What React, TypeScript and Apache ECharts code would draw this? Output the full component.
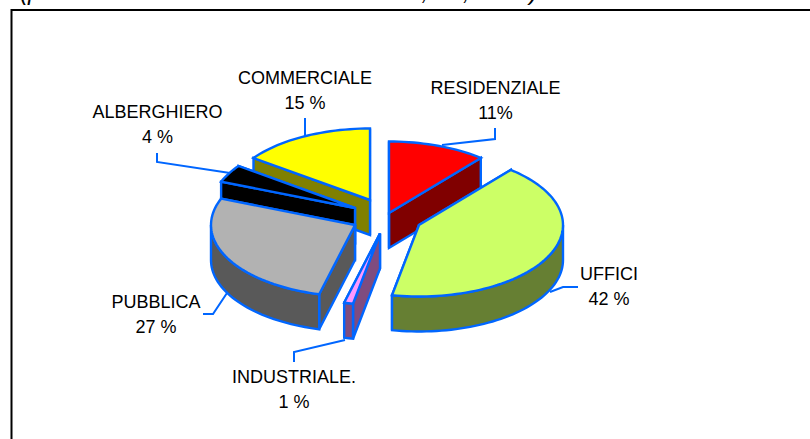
import React, { useEffect, useRef } from "react";
import * as echarts from "echarts";

const sliceNames = ["RESIDENZIALE", "UFFICI", "INDUSTRIALE.", "PUBBLICA", "ALBERGHIERO", "COMMERCIALE"];
const sliceValues = [11, 42, 1, 27, 4, 15];
const percentLabels = ["11%", "42 %", "1 %", "27 %", "4 %", "15 %"];
const topColors = ["#FF0000", "#CCFF66", "#FF99FF", "#B2B2B2", "#000000", "#FFFF00"];
const sideColors = ["#800000", "#667F33", "#7F4C7F", "#595959", "#000000", "#808000"];
const drawOrder = [5, 4, 0, 3, 1, 2];

// layout
const explodedCentres = [[389, 213], [419, 225], [380, 233.5], [355, 225], [355, 208], [370, 200]];
const labelCentres = [[495.5, 88], [609, 274], [294, 377], [156, 302], [157.5, 112], [305, 78]];
const lineGap = 24.5;
const leaders = [
  [[495, 128], [495, 139], [442, 145]],
  [[578, 287], [563, 287], [550, 292]],
  [[294, 362], [294, 352], [345, 340]],
  [[203, 314], [213, 314], [227, 293]],
  [[157, 153], [157, 162], [230, 173]],
  [[305, 118], [305, 136]],
];
const RX = 144, RY = 71.5, DEPTH = 35;
const EDGE = "#0066FF";
const EDGE_W = 2.4;
const FONT = "'Liberation Sans', Arial, sans-serif";

const total = sliceValues.reduce((a, b) => a + b, 0);
const starts: number[] = [];
sliceValues.reduce((acc, v, i) => { starts[i] = acc; return acc + v; }, 0);

function pt(c: number[], deg: number, dy = 0) {
  const r = (deg * Math.PI) / 180;
  return [c[0] + RX * Math.sin(r), c[1] - RY * Math.cos(r) + dy];
}
function arc(c: number[], a: number, b: number, dy = 0) {
  const n = Math.max(2, Math.ceil(Math.abs(b - a) / 2));
  const out: number[][] = [];
  for (let k = 0; k <= n; k++) out.push(pt(c, a + ((b - a) * k) / n, dy));
  return out;
}

function renderItem(_p: any, api: any) {
  const i = api.value(0);
  const c = explodedCentres[i];
  const a = (starts[i] / total) * 360;
  const b = ((starts[i] + sliceValues[i]) / total) * 360;
  const side = { fill: sideColors[i], stroke: EDGE, lineWidth: EDGE_W, lineJoin: "miter" };
  const children: any[] = [];
  const wall = (deg: number) => {
    const o = pt(c, deg);
    return { type: "polygon", shape: { points: [c, [c[0], c[1] + DEPTH], [o[0], o[1] + DEPTH], o] }, style: side };
  };
  children.push(wall(b), wall(a));
  const fa = Math.max(a, 90), fb = Math.min(b, 270);
  if (fb > fa) {
    children.push({
      type: "polygon",
      shape: { points: [...arc(c, fa, fb), ...arc(c, fb, fa, DEPTH)] },
      style: side,
    });
  }
  children.push({
    type: "polygon",
    shape: { points: [c, ...arc(c, a, b)] },
    style: { fill: topColors[i], stroke: EDGE, lineWidth: EDGE_W, lineJoin: "miter" },
  });
  return { type: "group", children };
}

export default function App() {
  const ref = useRef<HTMLDivElement>(null);
  useEffect(() => {
    document.body.style.margin = "0";
    const chart = echarts.init(ref.current!, null, { renderer: "svg" });
    const graphic: any[] = [
      { type: "line", shape: { x1: 11.5, y1: 10, x2: 810, y2: 10 }, style: { stroke: "#000", lineWidth: 2 }, z: 1 },
      { type: "line", shape: { x1: 11.5, y1: 9, x2: 11.5, y2: 439 }, style: { stroke: "#000", lineWidth: 2 }, z: 1 },
      {
        type: "text", x: 20, y: 3, z: 1,
        style: {
          text: "(per destinazione catastale dei volumi, m³, 1990)",
          font: `italic 24px ${FONT}`, fill: "#000", textAlign: "left", textVerticalAlign: "bottom",
        },
      },
    ];
    leaders.forEach((pts) =>
      graphic.push({ type: "polyline", shape: { points: pts }, style: { fill: "none", stroke: EDGE, lineWidth: 2 }, z: 5 })
    );
    sliceNames.forEach((n, i) => {
      const [x, y] = labelCentres[i];
      [n, percentLabels[i]].forEach((t, k) =>
        graphic.push({
          type: "text", x, y: y + k * lineGap, z: 6,
          style: { text: t, font: `18px ${FONT}`, fill: "#000", textAlign: "center", textVerticalAlign: "middle" },
        })
      );
    });
    chart.setOption({
      animation: false,
      backgroundColor: "#fff",
      graphic,
      series: [
        {
          type: "custom",
          coordinateSystem: "none",
          renderItem,
          silent: true,
          z: 3,
          data: drawOrder.map((i) => [i, sliceValues[i]]),
        },
      ],
    });
    return () => chart.dispose();
  }, []);
  return <div ref={ref} style={{ width: 810, height: 439 }} />;
}
